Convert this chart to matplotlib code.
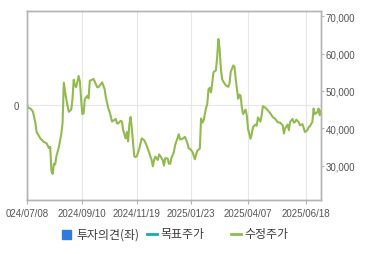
import matplotlib
matplotlib.use('Agg')
import matplotlib.pyplot as plt
from matplotlib.patches import Rectangle
from matplotlib.lines import Line2D

plt.rcParams['font.family'] = ['Liberation Sans', 'Noto Sans CJK KR', 'DejaVu Sans']

# trading-day index and adjusted price (수정주가)
day = [0, 1, 3, 5, 7, 8, 11, 14, 16, 18, 19, 20, 21, 22, 23, 24, 26, 28, 29, 30,
       31, 32, 33, 34, 36, 37, 38, 39, 40, 41, 42, 43, 44, 45, 46, 47, 49, 50, 51, 54,
       55, 57, 58, 61, 63, 64, 66, 67, 69, 70, 72, 73, 74, 76, 77, 78, 80, 81, 82, 83,
       84, 85, 86, 87, 88, 89, 91, 93, 95, 97, 99, 101, 102, 103, 104, 106, 107, 108, 110, 111,
       112, 114, 115, 116, 117, 119, 120, 123, 124, 126, 128, 130, 131, 132, 134, 136, 137, 138, 140, 141,
       142, 143, 145, 146, 147, 148, 149, 150, 151, 153, 154, 155, 156, 157, 158, 159, 161, 163, 164, 165,
       167, 168, 169, 170, 171, 172, 173, 174, 175, 177, 178, 179, 180, 181, 182, 183, 185, 186, 187, 189,
       190, 191, 193, 194, 197, 199, 201, 203, 205, 207, 208, 209, 211, 212, 213, 215, 216, 217, 218, 220,
       221, 223, 224, 225, 227, 228, 229, 231, 232, 233, 235, 236, 237, 238]
price = [47000, 45500, 45300, 44500, 41500, 39000, 37300, 36300, 36000, 34700, 35000, 28500, 27800, 30500, 30300, 32500, 35000, 38500, 41500, 52200,
         50000, 47800, 46000, 44400, 45000, 47800, 53000, 51500, 51000, 52500, 54000, 52500, 47800, 43800, 44000, 47800, 48700, 48000, 52700, 53200,
         52500, 51000, 51000, 52300, 50500, 48300, 45300, 44500, 41800, 42000, 42500, 41300, 41300, 42000, 41800, 39500, 37300, 39000, 36500, 41000,
         43000, 40000, 36000, 32500, 32300, 32500, 34500, 37300, 36800, 35400, 33500, 31500, 29800, 31500, 32400, 31500, 33000, 32600, 31500, 30000,
         32000, 31900, 30500, 30500, 32000, 33600, 35500, 38400, 37000, 37200, 37700, 36000, 34600, 34500, 33700, 31700, 33000, 34000, 34600, 42600,
         41500, 42000, 45400, 46500, 50400, 50800, 49600, 52000, 55000, 55500, 59000, 63900, 61300, 56000, 53200, 52500, 51500, 51100, 52000, 55100,
         56800, 56500, 53200, 50500, 47900, 49000, 48700, 45500, 43800, 45000, 43400, 39800, 38500, 37200, 38500, 40300, 41000, 40700, 42900, 41800,
         43500, 45900, 45500, 45200, 44000, 43000, 42500, 41600, 41500, 40800, 38600, 40000, 41000, 39500, 41700, 42500, 41500, 41700, 42300, 41600,
         40800, 41100, 40000, 39000, 39500, 40300, 40500, 41700, 45300, 43800, 44300, 45300, 43500, 44700]

tick_days = [0, 45, 89, 133, 179, 226]
tick_labels = ['024/07/08', '2024/09/10', '2024/11/19', '2025/01/23', '2025/04/07', '2025/06/18']
price_ticks = [30000, 40000, 50000, 60000, 70000]

line_color = '#92bb4f'
axis_color = '#b4b4b4'
text_color = '#555555'
legend_text = '#3c3c3c'

fig = plt.figure(figsize=(3.7, 2.55), dpi=100)
ax = fig.add_axes([0.0722, 0.2118, 0.7954, 0.7412])
ax2 = ax.twinx()

# left axis: 투자의견 (only 0 shown)
ax.set_ylim(-1, 1)
ax.set_yticks([0])
ax.set_yticklabels(['0'])
ax.set_xlim(0, 238)
ax.set_xticks(tick_days)
ax.set_xticklabels(tick_labels)
ax.grid(True, color='#e6e6e6', linewidth=0.8)
ax.set_axisbelow(True)
ax.tick_params(axis='y', length=0, pad=5.5, labelsize=7, labelcolor=text_color)
ax.tick_params(axis='x', length=3, pad=2.5, labelsize=7, labelcolor=text_color, color=axis_color)

# right axis: price
ax2.plot(day, price, color=line_color, linewidth=1.5)
ax2.set_ylim(20800, 71400)
ax2.set_yticks(price_ticks)
ax2.set_yticklabels([f'{v:,}' for v in price_ticks])
ax2.tick_params(axis='y', length=2.5, pad=0.8, labelsize=7, labelcolor=text_color, color=axis_color)

for a in (ax, ax2):
    for s in a.spines.values():
        s.set_color(axis_color)
        s.set_linewidth(1.0)

# legend drawn by hand to match spacing
ly = 1 - 235 / 255
kfont = ['Noto Sans CJK KR', 'DejaVu Sans']
fig.patches.append(Rectangle((62 / 370, ly - 4.5 / 255), 9 / 370, 9 / 255,
                             transform=fig.transFigure, color='#2e7be0'))
fig.text(76 / 370, ly, '투자의견(좌)', fontsize=8.6, color=legend_text, va='center', family=kfont)
fig.lines.append(Line2D([147 / 370, 157 / 370], [ly, ly], transform=fig.transFigure,
                        color='#1aa8b8', linewidth=2))
fig.text(160 / 370, ly, '목표주가', fontsize=8.6, color=legend_text, va='center', family=kfont)
fig.lines.append(Line2D([231 / 370, 241 / 370], [ly, ly], transform=fig.transFigure,
                        color=line_color, linewidth=2))
fig.text(244 / 370, ly, '수정주가', fontsize=8.6, color=legend_text, va='center', family=kfont)

fig.savefig('out.png', dpi=100)
